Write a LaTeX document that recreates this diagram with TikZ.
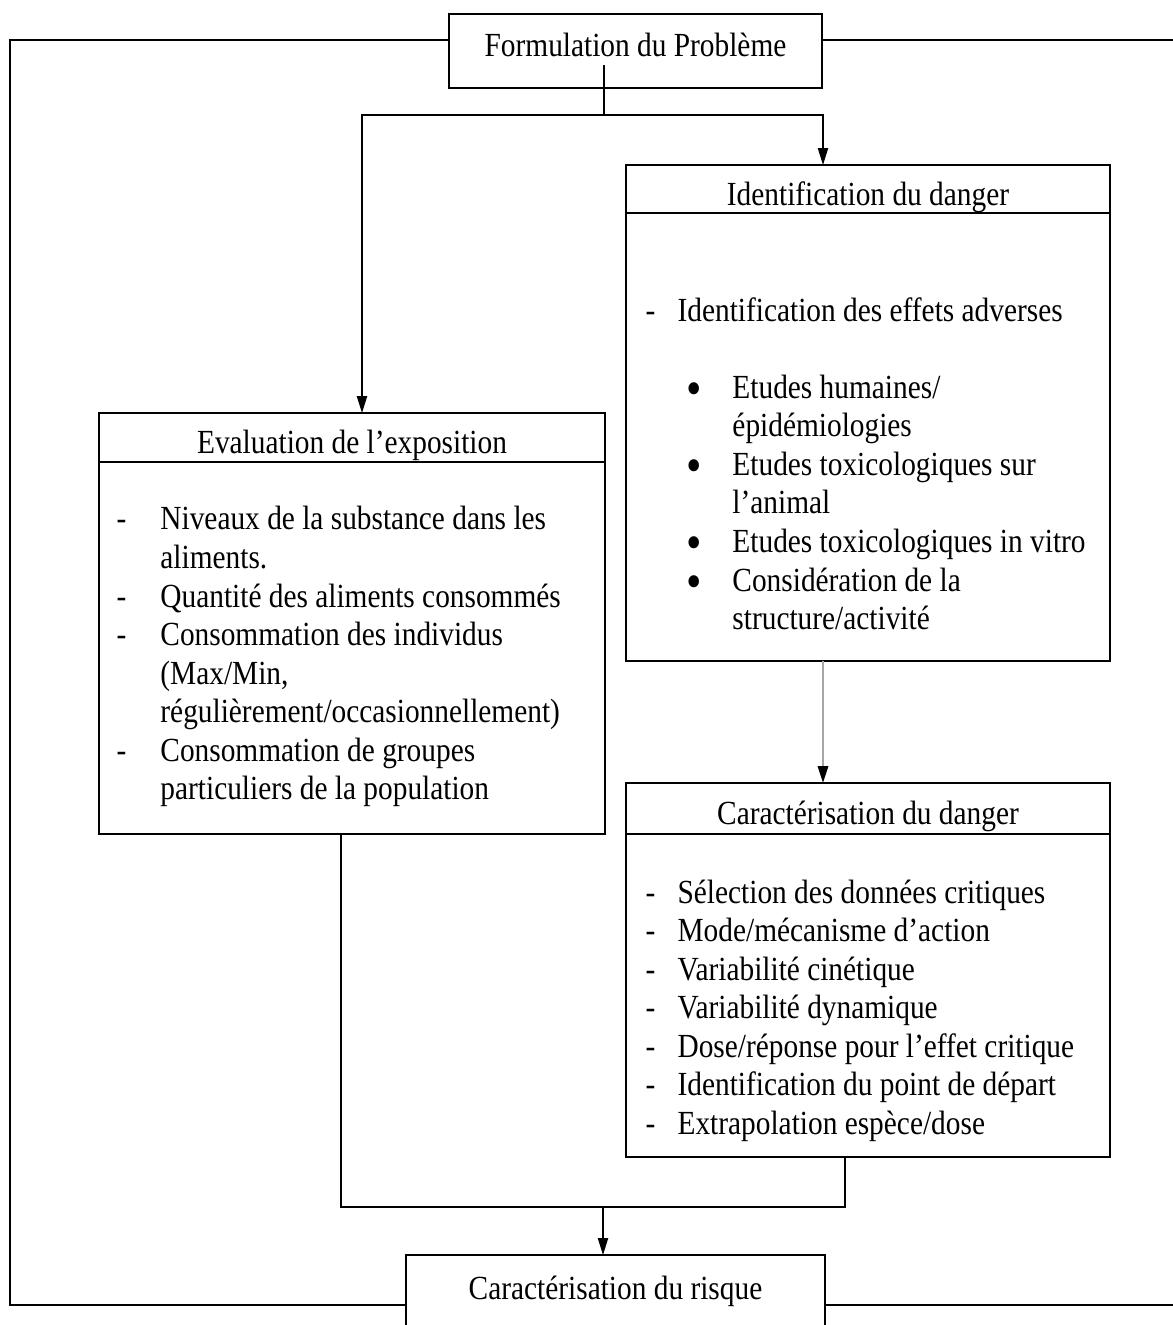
\documentclass[tikz,border=0pt]{standalone}
\usepackage{fontspec}
\setmainfont{Liberation Serif}[FakeStretch=0.87]
\usetikzlibrary{positioning,arrows.meta}

\newlength{\pxu}
\setlength{\pxu}{0.0125cm}
\newcommand{\itemdash}[2]{\makebox[#1][l]{-}#2}
\newcommand{\itemcont}[2]{\hspace*{#1}#2}
\newcommand{\itembul}[1]{\hspace*{14.4pt}\makebox[16.5pt][l]{\raisebox{-2.5pt}[0pt][0pt]{\fontsize{18}{18}\selectfont\textbullet}}#1}

\begin{document}
\begin{tikzpicture}[x=\pxu, y=-\pxu,
  every node/.style={font=\fontsize{12}{13.7}\selectfont},
  box/.style={draw=black, line width=0.6pt, inner sep=0pt, outer sep=0pt},
  headbox/.style={box, text height=11.4pt, text depth=0pt},
  endbox/.style={box, text height=9pt, text depth=5pt},
  listtxt/.style={inner sep=0pt, align=left, anchor=north west},
  link/.style={draw=black, line width=0.6pt},
  arr/.style={link, -{Triangle[length=6pt,width=3.6pt,color=black]}}]
\useasboundingbox (0,0) rectangle (1173,1325);
% boxes
\node[endbox, minimum width=373\pxu, minimum height=74\pxu] (form) at (635.5,51) {Formulation du Problème};
\node[headbox, minimum width=484\pxu, minimum height=48\pxu] (ident) at (868,189) {Identification du danger};
\node[box, minimum width=484\pxu, minimum height=448\pxu, below=0pt of ident] (identb) {};
\node[headbox, minimum width=506\pxu, minimum height=49\pxu] (eval) at (352,437.5) {Evaluation de l’exposition};
\node[box, minimum width=506\pxu, minimum height=372\pxu, below=0pt of eval] (evalb) {};
\node[headbox, minimum width=484\pxu, minimum height=51\pxu] (cdanger) at (868,808.5) {Caractérisation du danger};
\node[box, minimum width=484\pxu, minimum height=323\pxu, below=0pt of cdanger] (cdangerb) {};
\node[endbox, minimum width=419\pxu, minimum height=77\pxu] (risque) at (615.5,1293.5) {Caractérisation du risque};
% box contents
\node[listtxt, below right=84\pxu and 19\pxu of identb.north west] (identtxt) {%
  \itemdash{11.4pt}{Identification des effets adverses}\\[13.7pt]
  \itembul{Etudes humaines/}\\
  \itemcont{30.9pt}{épidémiologies}\\
  \itembul{Etudes toxicologiques sur}\\
  \itemcont{30.9pt}{l’animal}\\
  \itembul{Etudes toxicologiques in vitro}\\
  \itembul{Considération de la}\\
  \itemcont{30.9pt}{structure/activité}};
\node[listtxt, below right=44\pxu and 17\pxu of evalb.north west] (evaltxt) {%
  \itemdash{15.6pt}{Niveaux de la substance dans les}\\
  \itemcont{15.6pt}{aliments.}\\
  \itemdash{15.6pt}{Quantité des aliments consommés}\\
  \itemdash{15.6pt}{Consommation des individus}\\
  \itemcont{15.6pt}{(Max/Min,}\\
  \itemcont{15.6pt}{régulièrement/occasionnellement)}\\
  \itemdash{15.6pt}{Consommation de groupes}\\
  \itemcont{15.6pt}{particuliers de la population}};
\node[listtxt, below right=45\pxu and 19\pxu of cdangerb.north west] (cdangertxt) {%
  \itemdash{11.4pt}{Sélection des données critiques}\\
  \itemdash{11.4pt}{Mode/mécanisme d’action}\\
  \itemdash{11.4pt}{Variabilité cinétique}\\
  \itemdash{11.4pt}{Variabilité dynamique}\\
  \itemdash{11.4pt}{Dose/réponse pour l’effet critique}\\
  \itemdash{11.4pt}{Identification du point de départ}\\
  \itemdash{11.4pt}{Extrapolation espèce/dose}};
% connectors
\coordinate (tl) at (10,40);
\coordinate (bl) at (10,1305);
\coordinate (tr) at (1180,40);
\coordinate (br) at (1180,1305);
\coordinate (fstart) at (604,65);
\coordinate (split) at (604,115);
\coordinate (merge) at (603,1207);
\draw[link] (tl -| form.west) -- (tl) -- (bl) -- (bl -| risque.west);
\draw[link] (tr -| form.east) -- (tr);
\draw[link] (br -| risque.east) -- (br);
\draw[link] (fstart) -- (split);
\draw[arr] (split) -| ([xshift=10\pxu]eval.north);
\draw[arr] (split) -| ([xshift=-45\pxu]ident.north);
\draw[arr, draw=gray!70, line width=0.9pt] ([xshift=-45\pxu]identb.south) -- ([xshift=-45\pxu]cdanger.north);
\draw[link] ([xshift=-11\pxu]evalb.south) |- (merge) -| ([xshift=-23\pxu]cdangerb.south);
\draw[arr] (merge) -- (merge |- risque.north);
\end{tikzpicture}
\end{document}
